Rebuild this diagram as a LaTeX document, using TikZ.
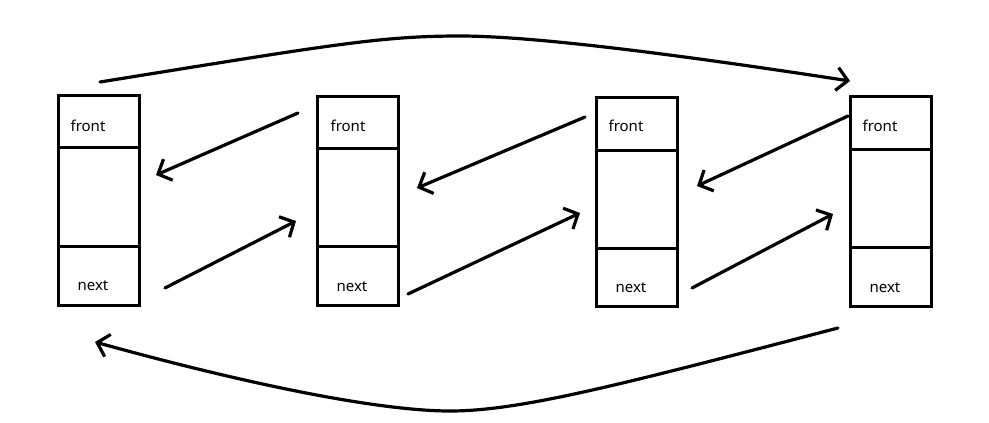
\documentclass[tikz,border=0pt]{standalone}
\usepackage{fontspec}
\setmainfont{Noto Sans}
\usetikzlibrary{arrows.meta}
\begin{document}
\begin{tikzpicture}[x=1pt,y=-1pt,
  cell/.style={draw, line width=3pt, minimum width=81pt, inner sep=0pt},
  lbl/.style={font=\fontsize{15}{17}\selectfont, inner sep=0pt, anchor=base},
  arr/.style={line width=3.2pt, line cap=round, line join=round,
    -{Straight Barb[length=11pt,width=23pt,line width=3.2pt]}}]
\useasboundingbox[fill=white] (0,0) rectangle (989,423);

% box 1
\node[cell, minimum height=52pt] (f1) at (98.5,121) {};
\node[cell, minimum height=99pt] (m1) at (98.5,196.5) {};
\node[cell, minimum height=59pt] (n1) at (98.5,275.5) {};
% box 2
\node[cell, minimum height=52pt] (f2) at (358,122) {};
\node[cell, minimum height=98pt] (m2) at (358,197) {};
\node[cell, minimum height=59pt] (n2) at (358,275.5) {};
% box 3
\node[cell, minimum height=53pt] (f3) at (636.5,123.5) {};
\node[cell, minimum height=98pt] (m3) at (636.5,199) {};
\node[cell, minimum height=58pt] (n3) at (636.5,277) {};
% box 4
\node[cell, minimum height=53pt] (f4) at (890.5,122.5) {};
\node[cell, minimum height=98pt] (m4) at (890.5,198) {};
\node[cell, minimum height=59pt] (n4) at (890.5,276.5) {};

% labels
\node[lbl] (tf1) at (88,131) {front};
\node[lbl] (tn1) at (93,290) {next};
\node[lbl] (tf2) at (348,131) {front};
\node[lbl] (tn2) at (352,291) {next};
\node[lbl] (tf3) at (626,131) {front};
\node[lbl] (tn3) at (631,292) {next};
\node[lbl] (tf4) at (880,131) {front};
\node[lbl] (tn4) at (885,292) {next};

% arrow end points
\coordinate (ta) at (100,82);
\coordinate (tb) at (850,81);
\coordinate (ba) at (838,328);
\coordinate (bb) at (95,342);
\coordinate (b1a) at (298,113);
\coordinate (b1b) at (156,175);
\coordinate (b2a) at (585,117);
\coordinate (b2b) at (417,188);
\coordinate (b3a) at (848,116);
\coordinate (b3b) at (697,186);
\coordinate (g1a) at (165,288);
\coordinate (g1b) at (296,221);
\coordinate (g2a) at (408,294);
\coordinate (g2b) at (580,213);
\coordinate (g3a) at (692,288);
\coordinate (g3b) at (833,214);

% curved arrows
\draw[arr] (ta) .. controls (330,45) and (380,36) .. (460,36)
  .. controls (540,36) and (700,58) .. (tb);
\draw[arr] (ba) .. controls (620,385) and (520,411) .. (450,411)
  .. controls (380,411) and (250,385) .. (bb);

% straight arrows
\draw[arr] (b1a) -- (b1b);
\draw[arr] (b2a) -- (b2b);
\draw[arr] (b3a) -- (b3b);
\draw[arr] (g1a) -- (g1b);
\draw[arr] (g2a) -- (g2b);
\draw[arr] (g3a) -- (g3b);
\end{tikzpicture}
\end{document}
